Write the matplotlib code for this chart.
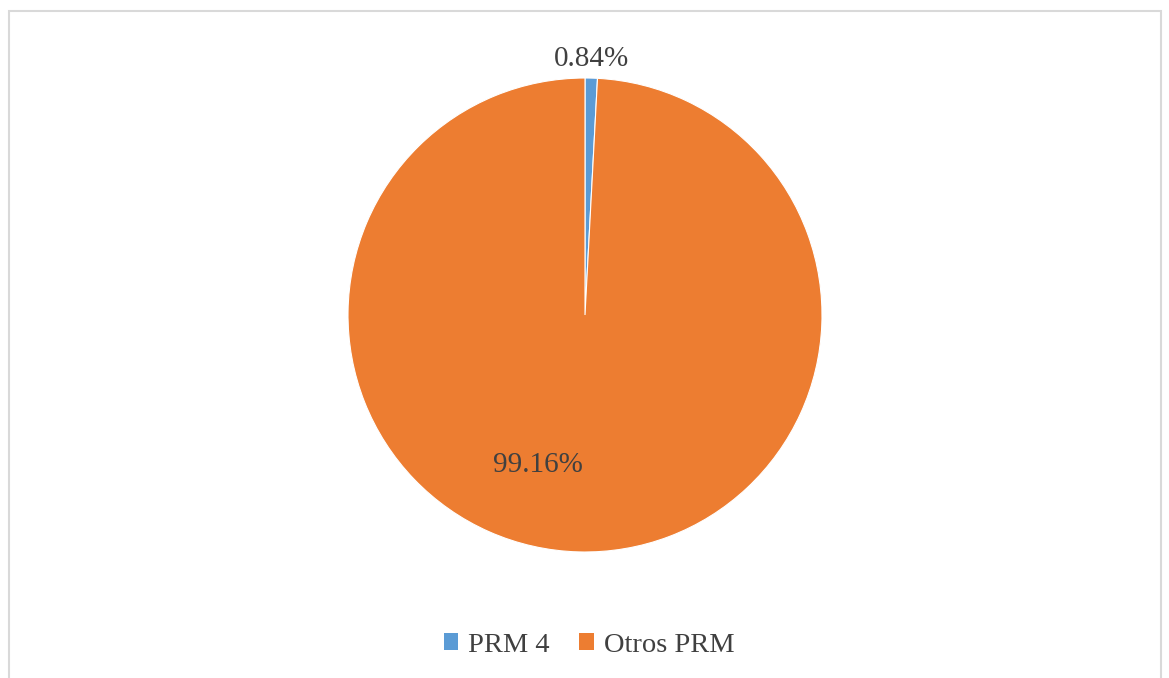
import matplotlib.pyplot as plt
from matplotlib.patches import Patch, Rectangle
import numpy as np

labels = ['PRM 4', 'Otros PRM']
shares = [0.84, 99.16]
colors = ['#5B9BD5', '#ED7D31']

plt.rcParams['font.family'] = ['Liberation Serif', 'DejaVu Serif']

fig = plt.figure(figsize=(11.69, 6.78), dpi=100)

# light grey frame around the chart area
fig.patches.append(Rectangle((9 / 1169, -0.05), 1152 / 1169, 1.05 - 11 / 678,
                             transform=fig.transFigure, fill=False,
                             edgecolor='#D9D9D9', linewidth=1.5))

r_px = 237
cx, cy = 585, 315
ax = fig.add_axes([(cx - r_px) / 1169, 1 - (cy + r_px) / 678,
                   2 * r_px / 1169, 2 * r_px / 678])
wedges, _ = ax.pie(shares, colors=colors, startangle=90, counterclock=False,
                   radius=1.0, wedgeprops=dict(linewidth=0.8, edgecolor='white'))
ax.set_xlim(-1, 1)
ax.set_ylim(-1, 1)
ax.set_aspect('equal')
ax.axis('off')

# small slice label just outside the wedge, large one inside
w0 = wedges[0]
mid = np.deg2rad((w0.theta1 + w0.theta2) / 2)
ax.text(1.08 * np.cos(mid), 1.08 * np.sin(mid), f'{shares[0]:.2f}%',
        ha='center', va='center', fontsize=21, color='#404040')
ax.text(-0.2, -0.635, f'{shares[1]:.2f}%',
        ha='center', va='center', fontsize=21, color='#404040')

handles = [Patch(facecolor=c, edgecolor='none') for c in colors]
fig.legend(handles, labels, loc='center', bbox_to_anchor=(589 / 1169, 1 - 645 / 678),
           ncol=2, frameon=False, fontsize=20.5, handlelength=0.5, handleheight=0.5,
           handletextpad=0.35, columnspacing=1.05, labelcolor='#404040')

fig.savefig('out.png', dpi=100)
